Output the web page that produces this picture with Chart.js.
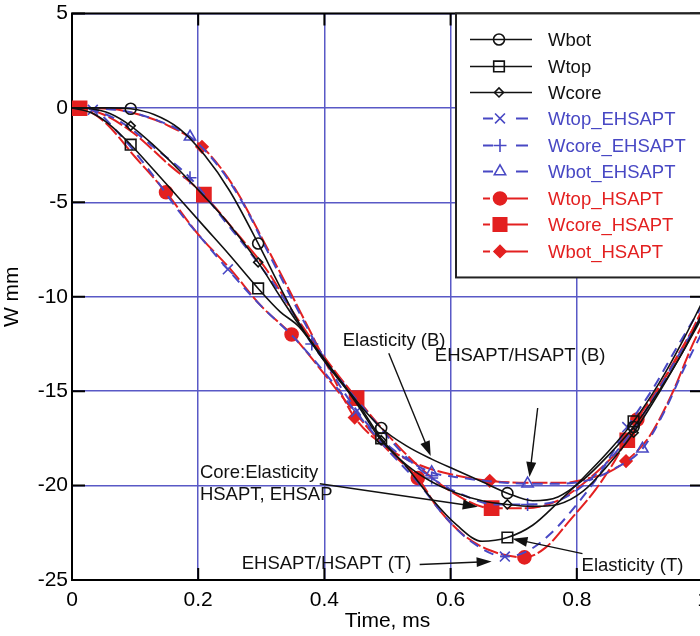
<!DOCTYPE html>
<html><head><meta charset="utf-8">
<script src="https://cdn.jsdelivr.net/npm/chart.js@4/dist/chart.umd.min.js"></script>
<style>
html,body{margin:0;padding:0;background:#fff;overflow:hidden;width:700px;height:636px;}
#wrap{position:absolute;left:0;top:0;width:720px;height:636px;}
</style></head><body>
<div id="wrap"><canvas id="c" width="720" height="636"></canvas></div>
<script>
// ---------- data ----------
const xTickLabels = ['0','0.2','0.4','0.6','0.8','1'];
const yTickLabels = ['-25','-20','-15','-10','-5','0','5'];

// Elasticity (black)
const tElast   = [0,0.03,0.06,0.093,0.13,0.17,0.21,0.25,0.295,0.33,0.36,0.4,0.45,0.49,0.53,0.57,0.61,0.65,0.69,0.73,0.77,0.81,0.85,0.89,0.93,0.97,1.0];
const wbotElast  = [0,0,0,-0.05,-0.35,-1.1,-2.5,-4.4,-7.18,-9.5,-11.4,-13.4,-15.5,-16.95,-17.9,-18.6,-19.2,-19.8,-20.4,-20.8,-20.6,-19.7,-18.4,-16.9,-15.0,-12.8,-10.8];
const wtopElast  = [0,-0.25,-0.9,-1.95,-3.3,-4.8,-6.3,-7.8,-9.56,-10.8,-11.6,-13.4,-15.5,-17.5,-19.0,-20.7,-22.1,-22.95,-22.75,-22.1,-20.9,-19.6,-18.2,-16.6,-14.6,-12.2,-10.2];
const wcoreElast = [0,-0.05,-0.3,-0.95,-2.0,-3.3,-4.7,-6.2,-8.18,-10.0,-11.5,-13.3,-15.6,-17.6,-18.9,-19.8,-20.4,-20.8,-21.0,-21.1,-21.0,-20.3,-18.9,-17.2,-15.1,-12.8,-11.0];
const elastMarks = [0.093,0.295,0.49,0.69,0.89];

// EHSAPT (blue dashed)
const tTopE = [0,0.033,0.07,0.12,0.17,0.21,0.247,0.3,0.35,0.4,0.45,0.5,0.55,0.59,0.63,0.686,0.72,0.76,0.8,0.84,0.88,0.92,0.96,1.0];
const wTopE = [0,-0.1,-1.2,-3.2,-5.5,-7.1,-8.55,-10.5,-12.1,-14.0,-16.1,-18.1,-19.9,-21.6,-22.9,-23.76,-23.5,-22.5,-21.0,-19.2,-16.9,-14.9,-12.6,-10.4];
const topEMarks = [0.033,0.247,0.45,0.686,0.88];
const tCoreE = [0,0.033,0.08,0.13,0.187,0.24,0.29,0.34,0.38,0.43,0.48,0.53,0.57,0.62,0.67,0.722,0.77,0.81,0.85,0.89,0.93,0.97,1.0];
const wCoreE = [0,-0.1,-0.8,-2.1,-3.7,-5.9,-8.0,-10.3,-12.5,-14.6,-16.6,-18.5,-19.6,-20.5,-21.0,-21.0,-20.8,-20.0,-18.7,-17.0,-14.9,-12.6,-10.9];
const coreEMarks = [0.187,0.38,0.57,0.722];
const tBotE = [0,0.033,0.08,0.13,0.187,0.23,0.27,0.31,0.35,0.39,0.43,0.48,0.53,0.57,0.62,0.67,0.722,0.77,0.82,0.86,0.904,0.94,0.97,1.0];
const wBotE = [0,-0.02,-0.15,-0.6,-1.53,-3.0,-5.0,-7.6,-10.2,-12.7,-15.0,-17.2,-18.6,-19.3,-19.6,-19.8,-19.9,-19.9,-19.7,-19.1,-18.05,-16.0,-13.8,-11.8];
const botEMarks = [0.187,0.57,0.722,0.904];

// HSAPT (red)
const tTopH = [0,0.012,0.05,0.1,0.149,0.2,0.25,0.3,0.348,0.4,0.45,0.5,0.548,0.58,0.62,0.66,0.717,0.75,0.79,0.83,0.86,0.896,0.93,0.97,1.0];
const wTopH = [0,-0.02,-0.7,-2.6,-4.47,-6.7,-8.5,-10.5,-12.0,-14.1,-16.2,-18.1,-19.6,-21.2,-22.6,-23.4,-23.8,-23.3,-21.8,-20.2,-18.7,-16.5,-14.8,-12.6,-10.6];
const topHMarks = [0.012,0.149,0.348,0.548,0.717,0.896];
const tCoreH = [0,0.012,0.05,0.1,0.15,0.209,0.255,0.309,0.35,0.4,0.451,0.5,0.55,0.6,0.665,0.72,0.77,0.81,0.85,0.88,0.92,0.96,1.0];
const wCoreH = [0,-0.02,-0.35,-1.4,-2.9,-4.6,-6.4,-8.6,-10.8,-13.2,-15.37,-17.3,-19.0,-20.3,-21.2,-21.2,-20.8,-19.9,-18.7,-17.6,-15.4,-13.1,-10.8];
const coreHMarks = [0.012,0.209,0.451,0.665,0.88];
const tBotH = [0,0.012,0.06,0.1,0.15,0.206,0.255,0.309,0.345,0.38,0.41,0.448,0.5,0.55,0.6,0.662,0.72,0.78,0.82,0.85,0.878,0.915,0.95,0.984,1.0];
const wBotH = [0,-0.02,-0.05,-0.3,-0.9,-2.06,-4.1,-7.4,-9.7,-12.0,-14.0,-16.4,-18.0,-18.9,-19.4,-19.75,-19.85,-19.85,-19.6,-19.3,-18.7,-17.4,-15.2,-12.5,-11.4];
const botHMarks = [0.012,0.206,0.448,0.662,0.878];

// annotations: text position and arrow (data coordinates)
const notes = [
  {lines:['Elasticity (B)'], x:0.429, y:-12.35, ax1:0.502, ay1:-12.99, ax2:0.5685, ay2:-18.43},
  {lines:['EHSAPT/HSAPT (B)'], x:0.575, y:-13.15, ax1:0.738, ay1:-15.89, ax2:0.725, ay2:-19.55},
  {lines:['Core:Elasticity','HSAPT, EHSAP'], x:0.2027, y:-19.32, ax1:0.3927, ay1:-19.9, ax2:0.643, ay2:-21.12},
  {lines:['EHSAPT/HSAPT (T)'], x:0.269, y:-24.13, ax1:0.551, ay1:-24.18, ax2:0.665, ay2:-24.02},
  {lines:['Elasticity (T)'], x:0.8076, y:-24.23, ax1:0.809, ay1:-23.6, ax2:0.698, ay2:-22.81}
];

// ---------- styles ----------
const FONT = "'Liberation Sans', Arial, Helvetica, sans-serif";
const BLACK = '#111111', BLUE = '#4848c4', RED = '#e32020', GRID = '#5959c6';

function mk(label, ts, ws, marks, color, style, radius, opts) {
  return Object.assign({
    label,
    data: ts.map((t, i) => ({x: t, y: ws[i]})),
    borderColor: color,
    pointStyle: style,
    pointRadius: ts.map(t => marks.includes(t) ? radius : 0),
    pointHoverRadius: 0,
    pointBorderColor: color,
    pointBorderWidth: 1.6,
    cubicInterpolationMode: 'monotone',
    fill: false
  }, opts);
}
const hollow = 'rgba(0,0,0,0)';
const datasets = [
  mk('Wbot', tElast, wbotElast, elastMarks, BLACK, 'circle', 5.5, {borderWidth:1.6, pointBackgroundColor:hollow, order:0}),
  mk('Wtop', tElast, wtopElast, elastMarks, BLACK, 'rect', 7.5, {borderWidth:1.6, pointBackgroundColor:hollow, order:0}),
  mk('Wcore', tElast, wcoreElast, elastMarks, BLACK, 'rectRot', 4.5, {borderWidth:1.6, pointBackgroundColor:hollow, order:0}),
  mk('Wtop_EHSAPT', tTopE, wTopE, topEMarks, BLUE, 'crossRot', 7, {borderWidth:2, borderDash:[10,7], pointBackgroundColor:hollow, order:1}),
  mk('Wcore_EHSAPT', tCoreE, wCoreE, coreEMarks, BLUE, 'cross', 6.5, {borderWidth:2, borderDash:[10,7], pointBackgroundColor:hollow, order:1}),
  mk('Wbot_EHSAPT', tBotE, wBotE, botEMarks, BLUE, 'triangle', 6.5, {borderWidth:2, borderDash:[10,7], pointBackgroundColor:hollow, order:1}),
  mk('Wtop_HSAPT', tTopH, wTopH, topHMarks, RED, 'circle', 6.5, {borderWidth:2, borderDash:[16,3], pointBackgroundColor:RED, order:2}),
  mk('Wcore_HSAPT', tCoreH, wCoreH, coreHMarks, RED, 'rect', 10, {borderWidth:2, borderDash:[16,3], pointBackgroundColor:RED, order:2}),
  mk('Wbot_HSAPT', tBotH, wBotH, botHMarks, RED, 'rectRot', 6, {borderWidth:2, borderDash:[16,3], pointBackgroundColor:RED, order:2})
];

function drawMarker(ctx, style, x, y, r, color, filled) {
  ctx.save();
  ctx.beginPath();
  ctx.strokeStyle = color; ctx.fillStyle = color; ctx.lineWidth = 1.6; ctx.setLineDash([]);
  const c = Math.SQRT1_2 * r;
  if (style === 'circle') ctx.arc(x, y, r, 0, Math.PI * 2);
  else if (style === 'rect') ctx.rect(x - c, y - c, 2 * c, 2 * c);
  else if (style === 'rectRot') { ctx.moveTo(x - r, y); ctx.lineTo(x, y - r); ctx.lineTo(x + r, y); ctx.lineTo(x, y + r); ctx.closePath(); }
  else if (style === 'triangle') { ctx.moveTo(x - r*0.866, y + r*0.5); ctx.lineTo(x, y - r); ctx.lineTo(x + r*0.866, y + r*0.5); ctx.closePath(); }
  else if (style === 'cross') { ctx.moveTo(x, y - r); ctx.lineTo(x, y + r); ctx.moveTo(x - r, y); ctx.lineTo(x + r, y); }
  else if (style === 'crossRot') { ctx.moveTo(x - c, y - c); ctx.lineTo(x + c, y + c); ctx.moveTo(x + c, y - c); ctx.lineTo(x - c, y + c); }
  if (filled && style !== 'cross' && style !== 'crossRot') ctx.fill();
  ctx.stroke();
  ctx.restore();
}

const framePlugin = {
  id: 'frame',
  beforeDatasetsDraw(chart) {
    const ctx = chart.ctx, {left, right, top, bottom} = chart.chartArea;
    const xs = chart.scales.x, ys = chart.scales.y;
    ctx.save();
    ctx.strokeStyle = '#000'; ctx.lineWidth = 2;
    ctx.strokeRect(left, top, right - left, bottom - top);
    ctx.beginPath();
    xs.ticks.forEach(t => { const p = xs.getPixelForValue(t.value); ctx.moveTo(p, bottom); ctx.lineTo(p, bottom - 12); ctx.moveTo(p, top); ctx.lineTo(p, top + 12); });
    ys.ticks.forEach(t => { const p = ys.getPixelForValue(t.value); ctx.moveTo(left, p); ctx.lineTo(left + 13, p); ctx.moveTo(right, p); ctx.lineTo(right - 13, p); });
    ctx.stroke();
    ctx.restore();
  }
};

const overlayPlugin = {
  id: 'overlay',
  afterDraw(chart) {
    const ctx = chart.ctx, {left, top} = chart.chartArea;
    const xs = chart.scales.x, ys = chart.scales.y;
    ctx.save();
    ctx.font = '18.5px ' + FONT; ctx.fillStyle = '#111'; ctx.textBaseline = 'middle'; ctx.textAlign = 'left';
    notes.forEach(n => {
      const tx = xs.getPixelForValue(n.x), ty = ys.getPixelForValue(n.y);
      n.lines.forEach((s, i) => ctx.fillText(s, tx, ty + i * 22));
      const x1 = xs.getPixelForValue(n.ax1), y1 = ys.getPixelForValue(n.ay1);
      const x2 = xs.getPixelForValue(n.ax2), y2 = ys.getPixelForValue(n.ay2);
      const ang = Math.atan2(y2 - y1, x2 - x1), L = 15, W = 5;
      ctx.strokeStyle = '#111'; ctx.lineWidth = 1.4;
      ctx.beginPath(); ctx.moveTo(x1, y1); ctx.lineTo(x2 - L * 0.8 * Math.cos(ang), y2 - L * 0.8 * Math.sin(ang)); ctx.stroke();
      ctx.beginPath();
      ctx.moveTo(x2, y2);
      ctx.lineTo(x2 - L * Math.cos(ang) + W * Math.sin(ang), y2 - L * Math.sin(ang) - W * Math.cos(ang));
      ctx.lineTo(x2 - L * Math.cos(ang) - W * Math.sin(ang), y2 - L * Math.sin(ang) + W * Math.cos(ang));
      ctx.closePath(); ctx.fill();
    });
    // legend box
    const bx = left + 384, by = top, bw = 400, bh = 264;
    ctx.fillStyle = '#fff'; ctx.fillRect(bx, by, bw, bh);
    ctx.strokeStyle = '#222'; ctx.lineWidth = 2; ctx.strokeRect(bx, by, bw, bh);
    const rowY = [26, 53, 79, 105, 132, 158, 185, 211, 238];
    datasets.forEach((d, i) => {
      const y = by + rowY[i], c = d.borderColor;
      ctx.strokeStyle = c; ctx.lineWidth = (i < 3) ? 1.6 : 2; ctx.setLineDash([]);
      ctx.beginPath();
      if (i < 3) { ctx.moveTo(470, y); ctx.lineTo(532, y); }
      else if (i < 6) { ctx.moveTo(483, y); ctx.lineTo(493, y); ctx.moveTo(516, y); ctx.lineTo(528, y); }
      else { ctx.moveTo(483, y); ctx.lineTo(490, y); ctx.moveTo(494, y); ctx.lineTo(528, y); }
      ctx.stroke();
      const r = Math.max(...d.pointRadius);
      drawMarker(ctx, d.pointStyle, i < 3 ? 499 : 500, y, i === 7 ? 9.5 : r, c, i >= 6);
      ctx.fillStyle = c; ctx.font = '18.5px ' + FONT; ctx.textBaseline = 'middle';
      ctx.fillText(d.label, 548, y + 1);
    });
    ctx.restore();
  }
};

new Chart(document.getElementById('c'), {
  type: 'line',
  data: {datasets},
  plugins: [framePlugin, overlayPlugin],
  options: {
    responsive: false, animation: false, events: [],
    layout: {padding: {left: 0, top: 12, right: 17, bottom: 0}},
    plugins: {legend: {display: false}, tooltip: {enabled: false}},
    scales: {
      x: {
        type: 'linear', min: 0, max: 1,
        ticks: {stepSize: 0.2, color: '#000', font: {family: FONT, size: 21}, padding: 8, maxRotation: 0, autoSkip: false,
          callback: v => xTickLabels[Math.round(v / 0.2)]},
        grid: {color: GRID, lineWidth: 1.5, drawTicks: false},
        border: {display: false},
        title: {display: true, text: 'Time, ms', color: '#000', font: {family: FONT, size: 21}, padding: {top: 0, bottom: 2}},
        afterFit: s => { s.height = 56; }
      },
      y: {
        type: 'linear', min: -25, max: 5,
        ticks: {stepSize: 5, color: '#000', font: {family: FONT, size: 21, lineHeight: 0.9}, padding: 4,
          callback: v => yTickLabels[Math.round((v + 25) / 5)]},
        grid: {color: GRID, lineWidth: 1.5, drawTicks: false},
        border: {display: false},
        title: {display: true, text: 'W mm', color: '#000', font: {family: FONT, size: 21}, padding: {top: 0, bottom: 4}},
        afterFit: s => { s.width = 72; }
      }
    }
  }
});
</script>
</body></html>
